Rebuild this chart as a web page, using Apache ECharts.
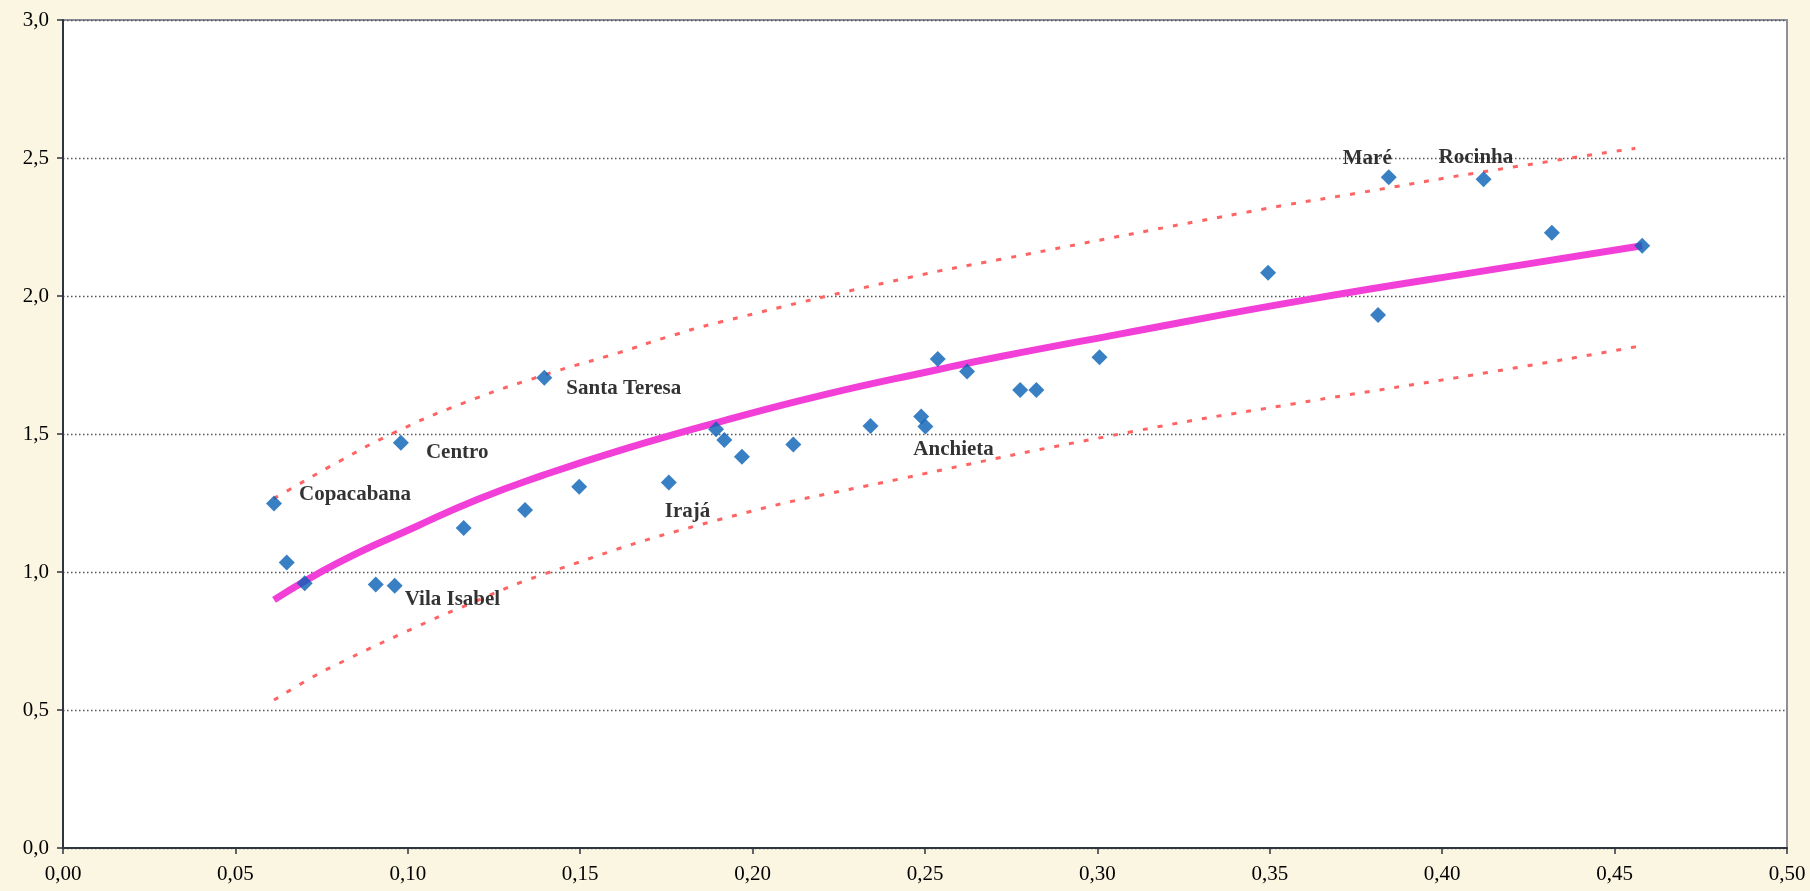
<!DOCTYPE html>
<html>
<head>
<meta charset="utf-8">
<script src="https://cdn.jsdelivr.net/npm/echarts@6/dist/echarts.min.js"></script>
<style>
  html, body { margin: 0; padding: 0; background: #fbf6e2; }
  #main { width: 1810px; height: 891px; }
</style>
</head>
<body>
<div id="main"></div>
<script>
// observed points (bairros)
var ptX = [0.0612, 0.0649, 0.0701, 0.0907, 0.0962, 0.0980, 0.1162, 0.1340, 0.1396, 0.1497,
           0.1757, 0.1894, 0.1918, 0.1969, 0.2118, 0.2342, 0.2489, 0.2501, 0.2537, 0.2622,
           0.2776, 0.2823, 0.3006, 0.3495, 0.3814, 0.3845, 0.4120, 0.4318, 0.4580];
var ptY = [1.248, 1.034, 0.959, 0.955, 0.950, 1.468, 1.159, 1.225, 1.704, 1.309,
           1.324, 1.517, 1.478, 1.418, 1.462, 1.529, 1.563, 1.527, 1.772, 1.726,
           1.659, 1.659, 1.778, 2.084, 1.931, 2.430, 2.423, 2.229, 2.182];
var ptName = ['Copacabana', '', '', '', 'Vila Isabel', 'Centro', '', '', 'Santa Teresa', '',
              'Irajá', '', '', '', '', '', '', 'Anchieta', '', '',
              '', '', '', '', '', 'Maré', 'Rocinha', '', ''];

// fitted curve
var trendX = [0.0612, 0.0800, 0.1023, 0.1200, 0.1391, 0.1613, 0.1904, 0.2200, 0.2532, 0.2716, 0.3064, 0.3600, 0.4167, 0.4580];
var trendY = [0.899, 1.035, 1.164, 1.262, 1.350, 1.440, 1.544, 1.640, 1.732, 1.780, 1.862, 1.985, 2.100, 2.182];

// upper and lower bands (dotted)
var upperX = [0.0611, 0.0646, 0.0800, 0.0956, 0.1159, 0.1396, 0.1613, 0.1749, 0.1904, 0.2461, 0.2716, 0.3490, 0.3761, 0.4119, 0.4560];
var upperY = [1.266, 1.291, 1.400, 1.502, 1.611, 1.714, 1.795, 1.850, 1.905, 2.069, 2.132, 2.317, 2.374, 2.450, 2.535];
var lowerX = [0.0612, 0.0704, 0.0781, 0.1023, 0.1159, 0.1401, 0.1904, 0.2426, 0.3103, 0.3567, 0.4148, 0.4570];
var lowerY = [0.536, 0.605, 0.657, 0.800, 0.874, 0.995, 1.190, 1.337, 1.509, 1.609, 1.726, 1.818];

// label placement: [start x offset, centre y offset] from the marker centre
var labelShift = {
  'Copacabana': [25, -9],
  'Centro': [25, 10],
  'Santa Teresa': [22, 11],
  'Vila Isabel': [10, 14],
  'Irajá': [-4, 29],
  'Anchieta': [-12, 23],
  'Maré': [-46, -19],
  'Rocinha': [-45, -22]
};

var SYM = 16;
var serif = "'Liberation Serif', 'Times New Roman', serif";
var comma = function (d) { return function (v) { return v.toFixed(d).replace('.', ','); }; };
var pairs = function (xs, ys) { return xs.map(function (x, i) { return [x, ys[i]]; }); };

var points = ptX.map(function (x, i) {
  var item = { value: [x, ptY[i]], name: ptName[i] };
  var s = labelShift[ptName[i]];
  if (s) {
    item.label = {
      show: true,
      formatter: '{b}',
      position: 'right',
      distance: 0,
      align: 'left',
      verticalAlign: 'middle',
      offset: [s[0] - SYM / 2, s[1]]
    };
  }
  return item;
});

var band = function (data) {
  return {
    type: 'line', data: data, smooth: true, showSymbol: false, silent: true, z: 2,
    lineStyle: { color: '#ff6464', width: 3, type: [5, 10] }
  };
};

var chart = echarts.init(document.getElementById('main'));
chart.setOption({
  backgroundColor: '#fbf6e2',
  animation: false,
  grid: {
    left: 63, right: 23, top: 20, bottom: 43,
    show: true, backgroundColor: '#ffffff', borderColor: '#8e8e9e', borderWidth: 2
  },
  xAxis: {
    type: 'value', min: 0, max: 0.5, interval: 0.05,
    axisLine: { show: true, lineStyle: { color: '#2e3440', width: 2 } },
    axisTick: { show: true, length: 6, lineStyle: { color: '#2e3440', width: 1.5 } },
    axisLabel: { formatter: comma(2), color: '#000', fontFamily: serif, fontSize: 21, margin: 16 },
    splitLine: { show: false }
  },
  yAxis: {
    type: 'value', min: 0, max: 3, interval: 0.5,
    axisLine: { show: true, lineStyle: { color: '#2e3440', width: 2 } },
    axisTick: { show: true, length: 6, lineStyle: { color: '#2e3440', width: 1.5 } },
    axisLabel: { formatter: comma(1), color: '#000', fontFamily: serif, fontSize: 21, margin: 14 },
    splitLine: { show: true, lineStyle: { color: '#555', width: 1.3, type: [1.5, 2.5] } }
  },
  series: [
    band(pairs(upperX, upperY)),
    band(pairs(lowerX, lowerY)),
    {
      type: 'line', data: pairs(trendX, trendY), smooth: true, showSymbol: false, silent: true, z: 3,
      lineStyle: { color: '#f23fd8', width: 7 }
    },
    {
      type: 'scatter', data: points, symbol: 'diamond', symbolSize: SYM, z: 5,
      itemStyle: { color: '#0660b4' },
      label: { color: '#000', fontFamily: serif, fontSize: 21, fontWeight: 'bold' }
    }
  ]
});
</script>
</body>
</html>
